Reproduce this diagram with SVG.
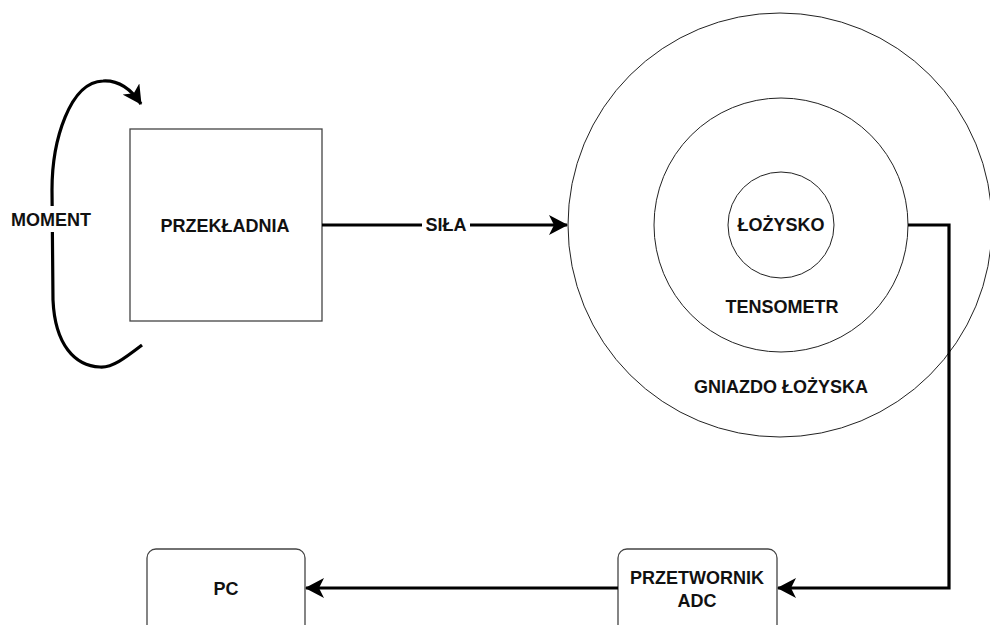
<svg xmlns="http://www.w3.org/2000/svg" width="990" height="625" viewBox="0 0 990 625">
<style>
text{font-family:"Liberation Sans",Arial,sans-serif;font-weight:bold;font-size:18px;fill:#111;text-anchor:middle}
.c{fill:#fff;stroke:#222;stroke-width:1}
.box{fill:#fff;stroke:#444;stroke-width:1.3}
.edge{fill:none;stroke:#000;stroke-width:3.2}
</style>
<defs>
<marker id="arr" viewBox="0 0 19 20" refX="18" refY="10" markerWidth="19" markerHeight="20" markerUnits="userSpaceOnUse" orient="auto">
<path d="M19,10 L0,0 L5,10 L0,20 Z" fill="#000"/>
</marker>
</defs>
<rect width="990" height="625" fill="#fff"/>
<g id="gniazdo">
<circle class="c" cx="780" cy="225" r="212"/>
<text x="781" y="393">GNIAZDO ŁOŻYSKA</text>
</g>
<g id="tensometr">
<circle class="c" cx="781" cy="225" r="127"/>
<text x="782" y="313">TENSOMETR</text>
</g>
<g id="lozysko">
<circle class="c" cx="781" cy="225" r="53"/>
<text x="781" y="231">ŁOŻYSKO</text>
</g>
<g id="przekladnia">
<rect class="box" x="130" y="129" width="192" height="192"/>
<text x="225" y="232">PRZEKŁADNIA</text>
</g>
<g id="adc">
<rect class="box" x="618" y="549" width="159" height="90" rx="9"/>
<text x="697" y="584">PRZETWORNIK</text>
<text x="697" y="607">ADC</text>
</g>
<g id="pc">
<rect class="box" x="147" y="549" width="158" height="90" rx="9"/>
<text x="226" y="595">PC</text>
</g>
<g id="connectors">
<path class="edge" d="M142,345 C125,358 112,368 100,367 C75,366 55,345 53,300 L52,190 C52,140 70,82 103,81 C120,80 133,92 141,104" marker-end="url(#arr)"/>
<rect x="8" y="206" width="86" height="26" fill="#fff"/>
<text x="51" y="226">MOMENT</text>
<path class="edge" d="M322,225 L567,225" marker-end="url(#arr)"/>
<rect x="422" y="215" width="48" height="20" fill="#fff"/>
<text x="446" y="231">SIŁA</text>
<path class="edge" d="M908,225 L949,225 L949,588 L778,588" marker-end="url(#arr)"/>
<path class="edge" d="M618,588 L306,588" marker-end="url(#arr)"/>
</g>
</svg>
